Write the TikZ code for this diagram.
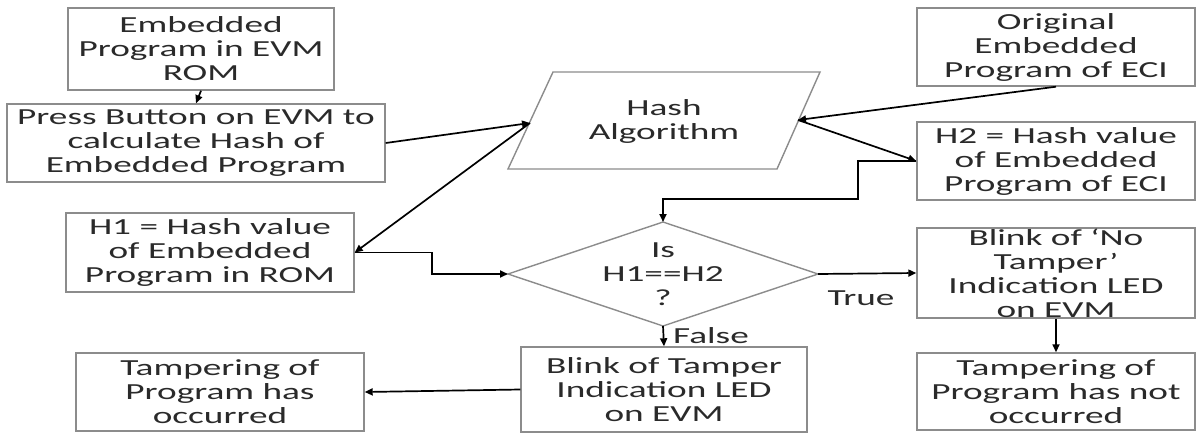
\documentclass[tikz,border=0pt]{standalone}
\usepackage{fontspec}
\setmainfont{Carlito}[FakeStretch=1.62]
\usetikzlibrary{arrows.meta}

\definecolor{boxline}{HTML}{8C8C8C}
\definecolor{txt}{HTML}{2A2A2A}

\tikzset{
  box/.style={draw=boxline, line width=1.4pt, fill=white, align=center,
              inner sep=0pt, text=txt,
              font=\fontsize{23}{24}\selectfont},
  flow/.style={draw=black, line width=1.7pt,
               -{Triangle[length=8pt,width=7pt]}},
  lbl/.style={text=txt, font=\fontsize{23}{24}\selectfont, inner sep=0pt}
}

\begin{document}
\begin{tikzpicture}[x=1pt,y=-1pt]
  \useasboundingbox (0,0) rectangle (1198,436);

  % rectangular steps
  \node[box, minimum width=266, minimum height=82] (rom)  at (201,49)    {Embedded\\Program in EVM\\ROM};
  \node[box, minimum width=378, minimum height=78] (press) at (196,143)  {Press Button on EVM to\\calculate Hash of\\Embedded Program};
  \node[box, minimum width=288, minimum height=79] (hone) at (210,252.5) {H1 = Hash value\\of Embedded\\Program in ROM};
  \node[box, minimum width=288, minimum height=78] (occ)  at (220,392)   {Tampering of\\Program has\\occurred};
  \node[box, minimum width=278, minimum height=78] (orig) at (1056,47)   {Original\\Embedded\\Program of ECI};
  \node[box, minimum width=278, minimum height=78] (htwo) at (1056,161)  {H2 = Hash value\\of Embedded\\Program of ECI};
  \node[box, minimum width=278, minimum height=90] (noblink) at (1056,273) {Blink of ‘No\\Tamper’\\Indication LED\\on EVM};
  \node[box, minimum width=278, minimum height=77] (notocc) at (1056,391.5) {Tampering of\\Program has not\\occurred};
  \node[box, minimum width=286, minimum height=85] (blink) at (664,389.5) {Blink of Tamper\\Indication LED\\on EVM};

  % hash algorithm (parallelogram)
  \draw[draw=boxline, line width=1.4pt, fill=white]
    (553,72) -- (820,72) -- (777,169) -- (508,169) -- cycle;
  \node[lbl, align=center] (hash) at (664,121) {Hash\\Algorithm};
  \coordinate (hashW) at (530,123);
  \coordinate (hashE) at (798,120);

  % decision (diamond)
  \draw[draw=boxline, line width=1.4pt, fill=white]
    (663,222) -- (818,274) -- (663,326) -- (508,274) -- cycle;
  \node[lbl, align=center] (cmp) at (663,274) {Is\\H1==H2\\?};
  \coordinate (dN) at (663,222);
  \coordinate (dW) at (508,274);
  \coordinate (dS) at (663,326);
  \coordinate (dE) at (818,274);

  % connectors
  \draw[flow] (rom.south) -- (press.north);
  \draw[flow] (press.east) -- (hashW);
  \draw[flow] (hashW) -- (hone.east);
  \draw[flow] (orig.south) -- (hashE);
  \draw[flow] (hashE) -- (htwo.west);
  \draw[flow] (htwo.west) -- (858,161) -- (858,199) -- (663,199) -- (dN);
  \draw[flow] (hone.east) -- (432,252.5) -- (432,274) -- (dW);
  \draw[flow] (dS) -- (blink.north);
  \draw[flow] (dE) -- (noblink.west);
  \draw[flow] (noblink.south) -- (notocc.north);
  \draw[flow] (blink.west) -- (occ.east);

  % branch labels
  \node[lbl, anchor=west] (falselbl) at (673,336) {False};
  \node[lbl] (truelbl) at (861,298) {True};
\end{tikzpicture}
\end{document}
